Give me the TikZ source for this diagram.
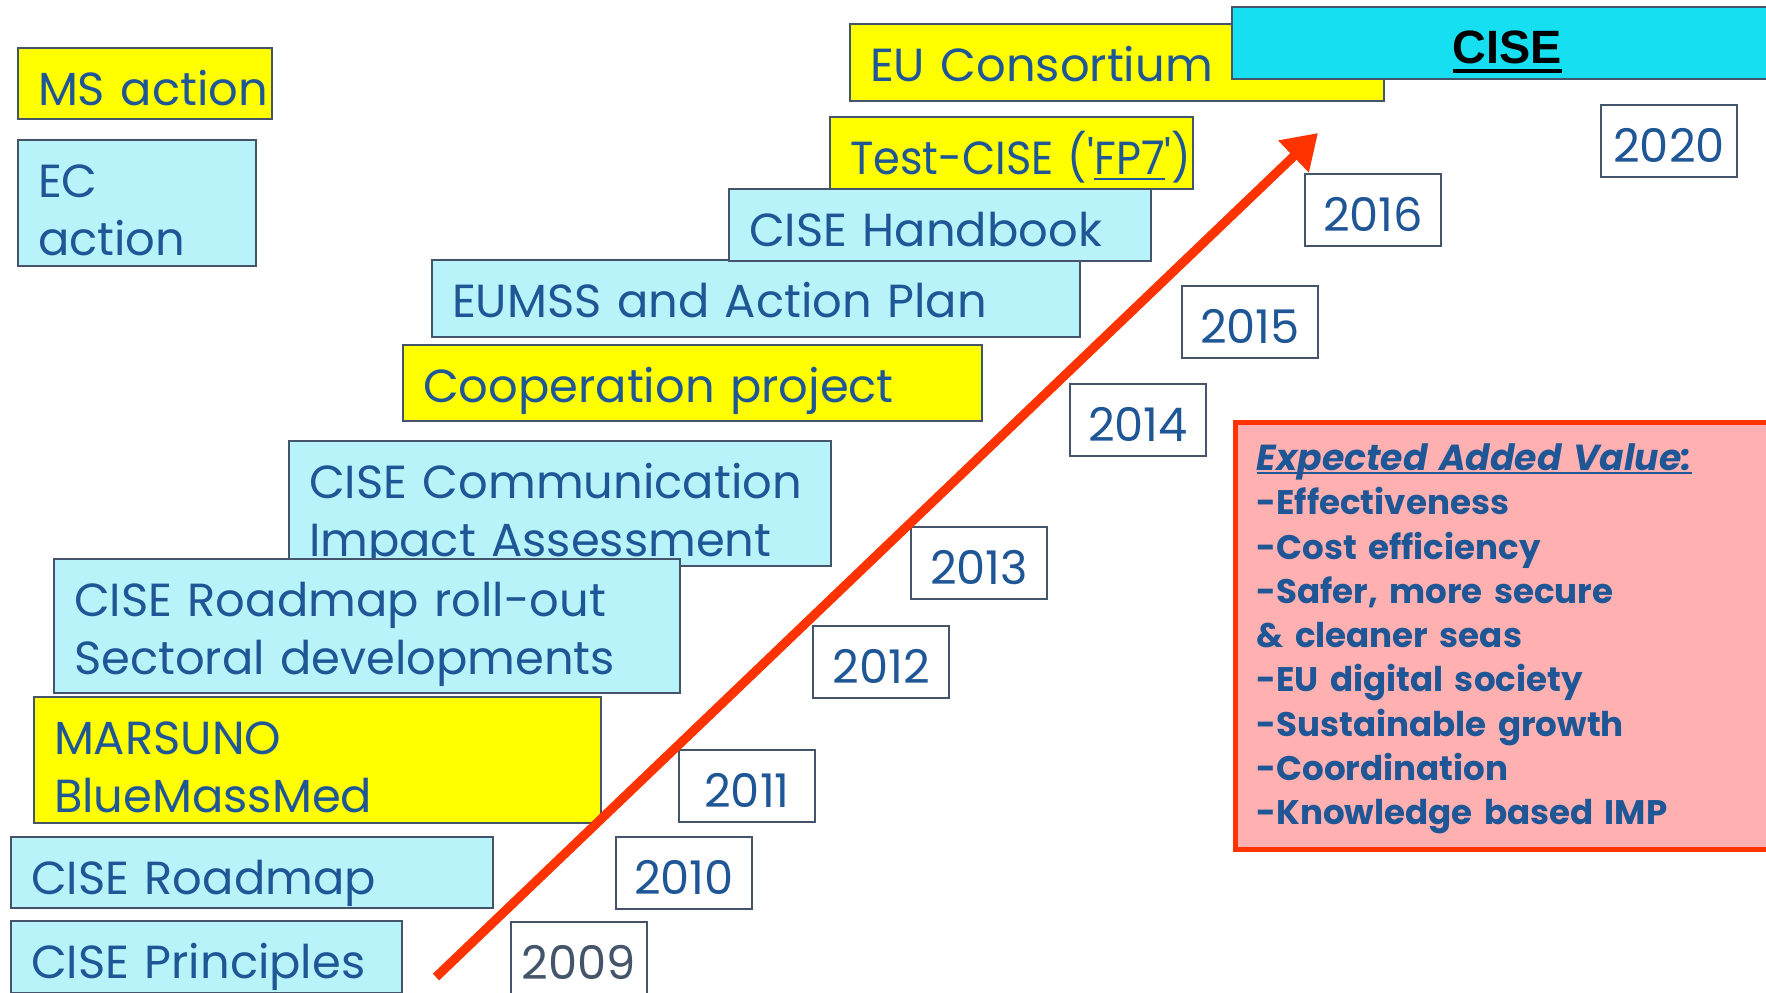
\documentclass[tikz,border=0pt]{standalone}
\usepackage{fontspec}
\usepackage{graphicx}
\setmainfont{Poppins}
\newfontfamily\arialfont{Liberation Sans}
\usetikzlibrary{arrows.meta}
\definecolor{txtblue}{RGB}{31,86,150}
\definecolor{boxline}{RGB}{68,84,106}
\definecolor{lightcyan}{RGB}{183,243,249}
\definecolor{boxyellow}{RGB}{255,255,0}
\definecolor{cisecyan}{RGB}{21,223,240}
\definecolor{valuepink}{RGB}{255,176,176}
\definecolor{arrowred}{RGB}{255,51,0}
\newcommand\ulline[3]{\setbox0\hbox{#3}\rlap{\vrule height -#1 depth #2 width \wd0}#3}
\begin{document}
\begin{tikzpicture}[x=0.1mm,y=-0.1mm,
  every node/.style={font=\fontsize{13.2}{16.5}\selectfont, text=txtblue},
  cyanbox/.style={draw=boxline, line width=0.6pt, fill=lightcyan, anchor=north west,
    inner xsep=2mm, inner ysep=0pt, text height=5.7mm, align=left,
    execute at begin node={\hyphenpenalty=10000\exhyphenpenalty=10000}},
  yellowbox/.style={cyanbox, fill=boxyellow},
  yearbox/.style={draw=boxline, line width=0.6pt, fill=white, anchor=north west,
    inner sep=0pt, minimum width=13.6mm, text height=5.7mm, text depth=1.5mm}]
\useasboundingbox (0,0) rectangle (1766,992);
\clip (0,0) rectangle (1766,992);
% legend
\node[yellowbox, text width=21.4mm, text depth=1.4mm] (ms) at (17,47) {MS~action};
\node[cyanbox, text width=19.8mm, text depth=6.9mm] (ec) at (17,139) {EC\\action};
% steps, bottom to top
\node[cyanbox, text width=35.1mm, text depth=1.5mm] (principles) at (10,920) {CISE~Principles};
\node[cyanbox, text width=44.2mm, text depth=1.4mm] (roadmap) at (10,836) {CISE~Roadmap};
\node[yellowbox, text width=52.7mm, text depth=6.9mm] (marsuno) at (33,696) {MARSUNO\\BlueMassMed};
\node[cyanbox, text width=50.2mm, text depth=6.8mm] (comm) at (288,440) {CISE~Communication\\Impact~Assessment};
\node[cyanbox, text width=58.6mm, text depth=7.7mm] (rollout) at (53,558) {CISE~Roadmap~roll-out\\Sectoral~developments};
\node[yellowbox, text width=53.9mm, text depth=1.9mm] (coop) at (402,344) {Cooperation~project};
\node[cyanbox, text width=60.8mm, text depth=2.0mm] (eumss) at (431,259) {EUMSS~and~Action~Plan};
\node[cyanbox, text width=38.2mm, text depth=1.5mm] (handbook) at (728,188) {CISE~Handbook};
\node[yellowbox, text width=32.3mm, text depth=1.5mm] (testcise) at (829,116)
  {\scalebox{0.93}[1]{Test-CISE~(\textquotesingle\underline{FP7}\textquotesingle)}};
\node[yellowbox, text width=49.4mm, text depth=2.0mm] (consortium) at (849,23) {EU~Consortium};
\node[draw=boxline, line width=0.6pt, fill=cisecyan, anchor=north west, inner sep=0pt,
  minimum width=55mm, text height=5.6mm, text depth=1.6mm,
  font=\arialfont\bfseries\fontsize{13.3}{16}\selectfont, text=black] (cise) at (1231,6)
  {\ulline{1.7pt}{2.9pt}{CISE}};
% years
\node[yearbox, text=boxline] (y2009) at (510,921) {2009};
\node[yearbox] (y2010) at (615,836) {2010};
\node[yearbox] (y2011) at (678,749) {2011};
\node[yearbox] (y2012) at (812,625) {2012};
\node[yearbox] (y2013) at (910,526) {2013};
\node[yearbox] (y2014) at (1069,383) {2014};
\node[yearbox] (y2015) at (1181,285) {2015};
\node[yearbox] (y2016) at (1304,173) {2016};
\node[yearbox] (y2020) at (1600,104) {2020};
% added value
\node[draw=arrowred, line width=1.45pt, fill=valuepink, anchor=north west,
  inner xsep=2.1mm, inner ysep=0pt, text width=50.5mm, text height=4.8mm, text depth=37.9mm,
  align=left, font=\bfseries\fontsize{9.7}{12.6}\selectfont] (value) at (1233,420)
  {{\itshape\fontsize{10.3}{12.6}\selectfont\ulline{0.3pt}{1.1pt}{Expected Added Value:}}\\
   -Effectiveness\\
   -Cost efficiency\\
   -Safer, more secure\\
   \& cleaner seas\\
   -EU digital society\\
   -Sustainable growth\\
   -Coordination\\
   -Knowledge based IMP};
% arrow
\coordinate (arrowstart) at (436,977);
\coordinate (arrowtip) at (1318,133);
\draw[arrowred, line width=2.6pt, -{Triangle[length=3.4mm,width=4.2mm]}] (arrowstart) -- (arrowtip);
\end{tikzpicture}
\end{document}
